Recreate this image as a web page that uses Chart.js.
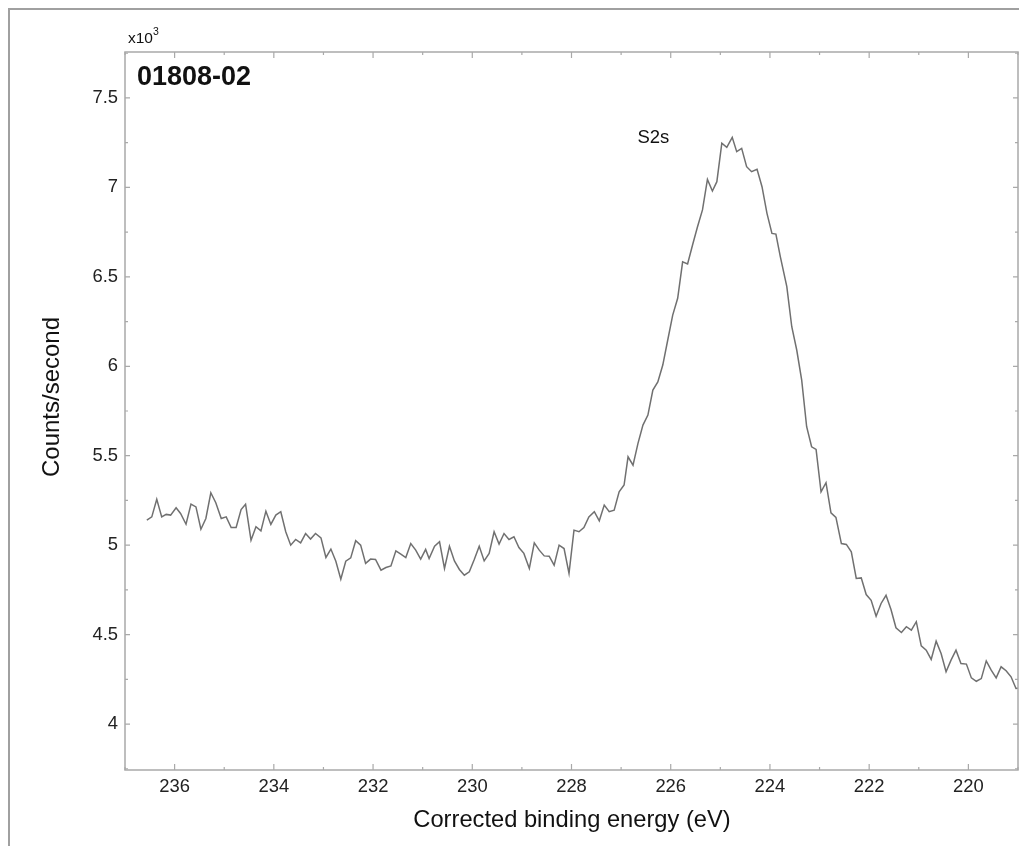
<!DOCTYPE html>
<html>
<head>
<meta charset="utf-8">
<script src="https://cdn.jsdelivr.net/npm/chart.js@4.4.1/dist/chart.umd.min.js"></script>
<style>
  html, body { margin: 0; padding: 0; background: #fff; }
  #wrap { width: 1019px; height: 846px; }
</style>
</head>
<body>
<div id="wrap"><canvas id="c" width="1019" height="846"></canvas></div>
<script>
// binding energy (eV)
const energy = [
  236.56,236.46,236.36,236.26,236.17,236.08,235.97,235.88,235.77,235.67,
  235.57,235.47,235.37,235.27,235.17,235.06,234.96,234.86,234.76,234.66,
  234.57,234.46,234.36,234.26,234.16,234.06,233.96,233.86,233.76,233.66,
  233.56,233.46,233.36,233.26,233.16,233.05,232.95,232.85,232.75,232.65,
  232.55,232.45,232.35,232.25,232.15,232.05,231.95,231.84,231.74,231.64,
  231.54,231.44,231.34,231.24,231.14,231.04,230.94,230.87,230.76,230.66,
  230.56,230.46,230.36,230.26,230.16,230.06,229.96,229.86,229.76,229.66,
  229.56,229.46,229.36,229.26,229.16,229.06,228.96,228.85,228.75,228.65,
  228.55,228.45,228.35,228.25,228.15,228.05,227.95,227.85,227.75,227.65,
  227.54,227.44,227.34,227.24,227.14,227.04,226.94,226.86,226.76,226.66,
  226.56,226.46,226.36,226.26,226.16,226.06,225.96,225.86,225.76,225.66,
  225.56,225.46,225.36,225.26,225.16,225.07,224.97,224.87,224.76,224.67,
  224.57,224.47,224.37,224.26,224.16,224.06,223.96,223.88,223.79,
  223.66,223.56,223.46,223.36,223.26,223.16,223.07,222.97,222.87,222.77,
  222.67,222.56,222.46,222.36,222.26,222.16,222.06,221.96,221.86,221.76,
  221.66,221.56,221.46,221.35,221.25,221.15,221.05,220.95,220.85,220.75,
  220.65,220.55,220.45,220.35,220.25,220.15,220.04,219.94,219.84,219.74,
  219.64,219.54,219.44,219.34,219.24,219.14,219.04,218.94
];

// counts per second
const counts = [
  5140,5158,5256,5158,5172,5168,5209,5177,5117,5229,
  5214,5089,5149,5293,5237,5149,5158,5099,5099,5199,
  5229,5028,5103,5080,5190,5116,5168,5187,5075,5000,
  5032,5013,5065,5034,5065,5041,4931,4978,4910,4810,
  4910,4929,5025,5000,4898,4922,4920,4860,4875,4884,
  4968,4950,4931,5009,4972,4922,4976,4925,4994,5019,
  4870,4994,4912,4864,4832,4851,4920,4994,4912,4954,
  5075,5006,5065,5032,5047,4987,4954,4870,5013,4972,
  4940,4938,4888,5000,4981,4842,5084,5075,5099,5158,
  5187,5136,5224,5187,5196,5298,5336,5494,5447,5569,
  5671,5727,5867,5913,6007,6147,6286,6380,6584,6572,
  6678,6780,6874,7045,6980,7032,7247,7224,7280,7200,
  7218,7116,7088,7101,7004,6855,6743,6739,6612,
  6445,6221,6091,5923,5662,5550,5535,5298,5349,5181,
  5155,5009,5004,4963,4814,4817,4724,4692,4603,4674,
  4720,4640,4538,4512,4544,4525,4572,4437,4413,4361,
  4463,4394,4292,4357,4413,4338,4335,4258,4239,4254,
  4353,4301,4258,4320,4298,4264,4199,4200
];

const xTicks = [236, 234, 232, 230, 228, 226, 224, 222, 220];
const xMinor = [237, 235, 233, 231, 229, 227, 225, 223, 221, 219];
const yTicks = [4000, 4500, 5000, 5500, 6000, 6500, 7000, 7500];
const yMinor = [3750, 4250, 4750, 5250, 5750, 6250, 6750, 7250, 7750];

const sampleName = '01808-02';
const peakLabel = { text: 'S2s', x: 226.35, y: 7250 };

const FONT = '"Liberation Sans", Arial, sans-serif';
const AXIS = '#a9a9a9';

const decor = {
  id: 'decor',
  beforeDraw(chart) {
    const ctx = chart.ctx;
    ctx.save();
    ctx.fillStyle = '#fff';
    ctx.fillRect(0, 0, chart.width, chart.height);
    // outer frame
    ctx.strokeStyle = '#a0a0a0';
    ctx.lineWidth = 2;
    ctx.beginPath();
    ctx.moveTo(9, chart.height);
    ctx.lineTo(9, 9);
    ctx.lineTo(chart.width, 9);
    ctx.stroke();
    ctx.restore();
  },
  afterDraw(chart) {
    const ctx = chart.ctx;
    const a = chart.chartArea;
    const xs = chart.scales.x, ys = chart.scales.y;
    ctx.save();
    ctx.strokeStyle = AXIS;
    ctx.lineWidth = 1.5;
    ctx.strokeRect(a.left, a.top, a.right - a.left, a.bottom - a.top);

    // inward ticks on all four sides
    ctx.lineWidth = 1.2;
    ctx.beginPath();
    const xt = (v, len) => {
      const px = xs.getPixelForValue(v);
      ctx.moveTo(px, a.bottom); ctx.lineTo(px, a.bottom - len);
      ctx.moveTo(px, a.top); ctx.lineTo(px, a.top + len);
    };
    const yt = (v, len) => {
      const py = ys.getPixelForValue(v);
      ctx.moveTo(a.left, py); ctx.lineTo(a.left + len, py);
      ctx.moveTo(a.right, py); ctx.lineTo(a.right - len, py);
    };
    xTicks.forEach(v => xt(v, 6));
    xMinor.forEach(v => xt(v, 3));
    yTicks.forEach(v => yt(v, 5));
    yMinor.forEach(v => yt(v, 3));
    ctx.stroke();

    // texts
    ctx.fillStyle = '#111';
    ctx.textBaseline = 'alphabetic';
    ctx.textAlign = 'left';
    ctx.font = 'bold 27px ' + FONT;
    ctx.fillText(sampleName, 137, 85);

    ctx.font = '15.5px ' + FONT;
    ctx.fillText('x10', 128, 43);
    ctx.font = '10.5px ' + FONT;
    ctx.fillText('3', 153, 35);

    ctx.font = '18.5px ' + FONT;
    ctx.textAlign = 'center';
    ctx.fillText(peakLabel.text, xs.getPixelForValue(peakLabel.x), ys.getPixelForValue(peakLabel.y));

    ctx.font = '23.7px ' + FONT;
    ctx.fillText('Corrected binding energy (eV)', 572, 827);

    ctx.translate(59, 397);
    ctx.rotate(-Math.PI / 2);
    ctx.font = '24px ' + FONT;
    ctx.fillText('Counts/second', 0, 0);
    ctx.restore();
  }
};

new Chart(document.getElementById('c'), {
  type: 'line',
  data: {
    datasets: [{
      data: energy.map((e, i) => ({ x: e, y: counts[i] })),
      borderColor: '#707070',
      borderWidth: 1.5,
      pointRadius: 0,
      tension: 0,
      fill: false
    }]
  },
  options: {
    responsive: false,
    animation: false,
    devicePixelRatio: 1,
    layout: { padding: { left: 0, top: 52, right: 1, bottom: 0 } },
    plugins: { legend: { display: false }, tooltip: { enabled: false } },
    scales: {
      x: {
        type: 'linear',
        reverse: true,
        min: 219,
        max: 237,
        grid: { display: false, drawTicks: false },
        border: { display: false },
        afterBuildTicks: s => { s.ticks = xTicks.map(v => ({ value: v })); },
        afterFit: s => { s.height = 76; },
        ticks: {
          autoSkip: false,
          maxRotation: 0,
          padding: 6,
          color: '#222',
          font: { family: FONT, size: 18.4 },
          callback: v => String(v)
        }
      },
      y: {
        type: 'linear',
        min: 3743,
        max: 7757,
        grid: { display: false, drawTicks: false },
        border: { display: false },
        afterBuildTicks: s => { s.ticks = yTicks.map(v => ({ value: v })); },
        afterFit: s => { s.width = 125; },
        ticks: {
          autoSkip: false,
          padding: 7,
          color: '#222',
          font: { family: FONT, size: 18.4 },
          callback: v => String(v / 1000)
        }
      }
    }
  },
  plugins: [decor]
});
</script>
</body>
</html>
